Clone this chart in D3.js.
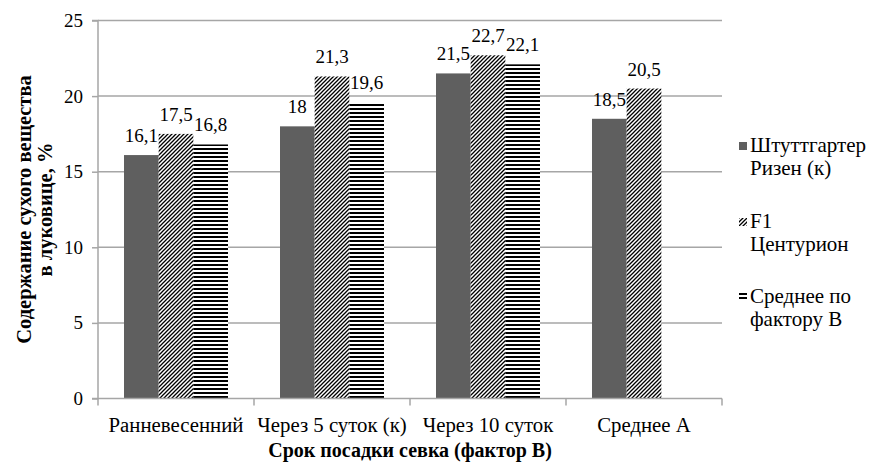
<!DOCTYPE html>
<html>
<head>
<meta charset="utf-8">
<script src="https://cdn.jsdelivr.net/npm/d3@7"></script>
<style>
  html, body { margin: 0; padding: 0; background: #fff; }
  svg { display: block; }
</style>
</head>
<body>
<svg id="chart" width="873" height="464"></svg>
<script>
// Dry matter content in the bulb by planting date (factor B)
const categories = ["Ранневесенний", "Через 5 суток (к)", "Через 10 суток", "Среднее А"];
const seriesNames = ["Штуттгартер Ризен (к)", "F1 Центурион", "Среднее по фактору В"];
const seriesLegendLines = [["Штуттгартер", "Ризен (к)"], ["F1", "Центурион"], ["Среднее по", "фактору В"]];
const shtuttgarter = [16.1, 18, 21.5, 18.5];
const centurion = [17.5, 21.3, 22.7, 20.5];
const meanB = [16.8, 19.6, 22.1, null];
const yTicks = [0, 5, 10, 15, 20, 25];

const seriesValues = [shtuttgarter, centurion, meanB];
const FONT = "Liberation Serif";

const svg = d3.select("#chart").attr("font-family", FONT);
const plot = { left: 98, right: 722, top: 20.5, bottom: 398.5 };

// Fill patterns: solid grey, upward diagonal hatch, horizontal stripes
const defs = svg.append("defs");
const diag = defs.append("pattern")
  .attr("id", "pat-diag").attr("patternUnits", "userSpaceOnUse")
  .attr("width", 4).attr("height", 4);
diag.append("rect").attr("width", 4).attr("height", 4).attr("fill", "#fff");
diag.append("path").attr("d", "M-1,1 L1,-1 M0,4 L4,0 M3,5 L5,3")
  .attr("stroke", "#000").attr("stroke-width", 1.3);

const horiz = defs.append("pattern")
  .attr("id", "pat-horz").attr("patternUnits", "userSpaceOnUse")
  .attr("width", 4).attr("height", 4);
horiz.append("rect").attr("width", 4).attr("height", 4).attr("fill", "#fff");
horiz.append("rect").attr("y", 0).attr("width", 4).attr("height", 2).attr("fill", "#000");

const fills = ["#5f5f5f", "url(#pat-diag)", "url(#pat-horz)"];

const x0 = d3.scaleBand().domain(categories).range([plot.left, plot.right]).padding(0);
const x1 = d3.scaleBand().domain(d3.range(seriesNames.length))
  .range([0, x0.bandwidth()]).paddingInner(0).paddingOuter(0.75);
const y = d3.scaleLinear().domain([0, 25]).range([plot.bottom, plot.top]);

const gridColor = "#a6a6a6";

// Horizontal gridlines
svg.append("g").selectAll("line")
  .data(yTicks.filter(t => t > 0))
  .join("line")
  .attr("x1", plot.left).attr("x2", plot.right)
  .attr("y1", d => y(d)).attr("y2", d => y(d))
  .attr("stroke", gridColor).attr("stroke-width", 1.5);

// Bars
const groups = svg.append("g").selectAll("g")
  .data(categories)
  .join("g")
  .attr("transform", d => `translate(${x0(d)},0)`);

groups.each(function (cat, ci) {
  const g = d3.select(this);
  seriesValues.forEach((vals, si) => {
    const v = vals[ci];
    if (v == null) return;
    g.append("rect")
      .attr("x", x1(si)).attr("width", x1.bandwidth())
      .attr("y", y(v)).attr("height", y(0) - y(v))
      .attr("fill", fills[si]);
  });
});

// Value labels
groups.each(function (cat, ci) {
  const g = d3.select(this);
  seriesValues.forEach((vals, si) => {
    const v = vals[ci];
    if (v == null) return;
    g.append("text")
      .attr("x", x1(si) + x1.bandwidth() / 2)
      .attr("y", y(v) - 13)
      .attr("text-anchor", "middle")
      .attr("font-family", FONT)
      .attr("font-size", 19)
      .attr("fill", "#000")
      .text(String(v).replace(".", ","));
  });
});

// Y axis
const yAxis = d3.axisLeft(y).tickValues(yTicks).tickSize(6).tickPadding(9);
const yg = svg.append("g").attr("transform", `translate(${plot.left},0)`).call(yAxis)
  .attr("font-family", FONT);
yg.select(".domain").attr("stroke", gridColor).attr("stroke-width", 1.5)
  .attr("d", `M-6,${plot.top}H0V${plot.bottom}H-6`);
yg.selectAll(".tick line").attr("stroke", gridColor).attr("stroke-width", 1.5);
yg.selectAll(".tick text").attr("font-size", 19).attr("font-family", FONT).attr("fill", "#000");

// X axis with ticks at category boundaries
const xg = svg.append("g").attr("transform", `translate(0,${plot.bottom})`);
xg.append("line").attr("x1", plot.left).attr("x2", plot.right)
  .attr("stroke", gridColor).attr("stroke-width", 1.5);
const bounds = categories.map(c => x0(c)).concat([x0(categories[categories.length - 1]) + x0.bandwidth()]);
xg.selectAll("line.tk").data(bounds).join("line").attr("class", "tk")
  .attr("x1", d => d).attr("x2", d => d).attr("y1", 0).attr("y2", 7)
  .attr("stroke", gridColor).attr("stroke-width", 1.5);
xg.selectAll("text").data(categories).join("text")
  .attr("x", d => x0(d) + x0.bandwidth() / 2)
  .attr("y", 33)
  .attr("text-anchor", "middle")
  .attr("font-family", FONT)
  .attr("font-size", 20.8)
  .attr("fill", "#000")
  .text(d => d);

// Axis titles
svg.append("text")
  .attr("x", (plot.left + plot.right) / 2).attr("y", 457)
  .attr("text-anchor", "middle").attr("font-family", FONT)
  .attr("font-size", 20).attr("font-weight", "bold")
  .text("Срок посадки севка (фактор В)");

const yTitle = svg.append("text")
  .attr("transform", `translate(0,${(plot.top + plot.bottom) / 2}) rotate(-90)`)
  .attr("text-anchor", "middle").attr("font-family", FONT)
  .attr("font-size", 20.5).attr("font-weight", "bold");
yTitle.append("tspan").attr("x", 0).attr("y", 31).text("Содержание сухого вещества");
yTitle.append("tspan").attr("x", 0).attr("y", 52).text("в луковице, %");

// Legend
const legend = svg.append("g").attr("transform", "translate(739,0)");
const legendY = [146, 222, 297];
seriesNames.forEach((name, i) => {
  const item = legend.append("g").attr("transform", `translate(0,${legendY[i]})`);
  item.append("rect").attr("x", 0).attr("y", -4).attr("width", 8).attr("height", 8)
    .attr("fill", fills[i]);
  const t = item.append("text").attr("font-family", FONT).attr("font-size", 21).attr("fill", "#000");
  seriesLegendLines[i].forEach((line, li) => {
    t.append("tspan").attr("x", 11).attr("y", 6 + li * 23).text(line);
  });
});
</script>
</body>
</html>
